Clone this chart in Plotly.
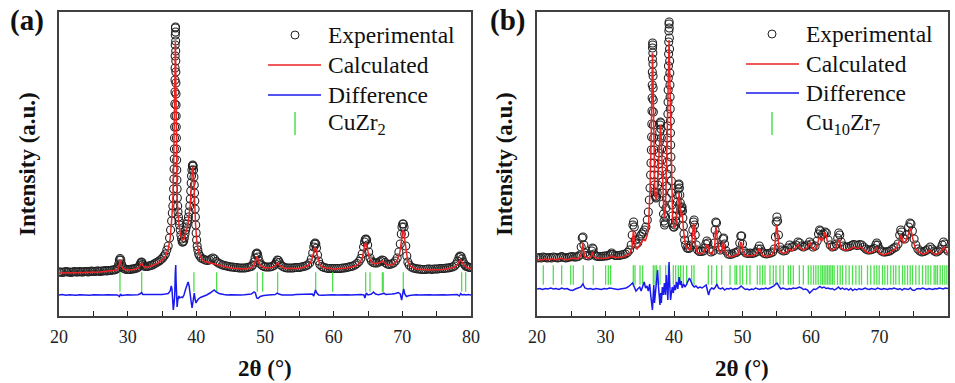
import plotly.graph_objects as go

# ---------------- Panel (a): CuZr2 ----------------
A_OBS_X = [
 20.0, 20.25, 20.5, 20.75, 21.0, 21.25, 21.5, 21.75, 22.0, 22.25,
 22.5, 22.75, 23.0, 23.25, 23.5, 23.75, 24.0, 24.25, 24.5, 24.75,
 25.0, 25.25, 25.5, 25.75, 26.0, 26.25, 26.5, 26.75, 27.0, 27.25,
 27.5, 27.75, 28.0, 28.25, 28.5, 28.6, 28.7, 28.8, 28.9, 29.0,
 29.1, 29.2, 29.35, 29.6, 29.85, 30.1, 30.35, 30.6, 30.85, 31.1,
 31.35, 31.6, 31.8, 31.9, 32.0, 32.1, 32.2, 32.35, 32.6, 32.85,
 33.1, 33.35, 33.6, 33.85, 34.1, 34.35, 34.6, 34.85, 35.1, 35.3,
 35.5, 35.7, 35.9, 36.1, 36.25, 36.4, 36.5, 36.58, 36.64, 36.69,
 36.73, 36.76, 36.785, 36.805, 36.825, 36.84, 36.855, 36.87, 36.885, 36.895,
 36.905, 36.915, 36.925, 36.935, 36.95, 36.965, 36.98, 36.99, 37.0, 37.01,
 37.02, 37.03, 37.04, 37.05, 37.065, 37.08, 37.095, 37.11, 37.13, 37.15,
 37.175, 37.2, 37.235, 37.28, 37.33, 37.4, 37.48, 37.56, 37.65, 37.75,
 37.85, 37.95, 38.05, 38.15, 38.25, 38.35, 38.45, 38.55, 38.65, 38.75,
 38.85, 38.95, 39.05, 39.12, 39.19, 39.25, 39.3, 39.36, 39.42, 39.48,
 39.54, 39.6, 39.65, 39.7, 39.74, 39.78, 39.82, 39.86, 39.91, 39.97,
 40.04, 40.12, 40.22, 40.35, 40.5, 40.7, 41.0, 41.3, 41.6, 41.9,
 42.15, 42.4, 42.65, 42.9, 43.2, 43.5, 43.8, 44.1, 44.4, 44.7,
 45.0, 45.3, 45.6, 45.9, 46.2, 46.5, 46.8, 47.1, 47.4, 47.7,
 48.0, 48.2, 48.4, 48.55, 48.7, 48.8, 48.9, 49.0, 49.15, 49.35,
 49.6, 49.85, 50.1, 50.4, 50.7, 51.0, 51.3, 51.5, 51.65, 51.8,
 51.95, 52.1, 52.3, 52.6, 52.9, 53.2, 53.5, 53.8, 54.1, 54.4,
 54.7, 55.0, 55.3, 55.6, 55.9, 56.2, 56.5, 56.75, 56.95, 57.1,
 57.2, 57.3, 57.4, 57.5, 57.65, 57.8, 58.0, 58.3, 58.6, 58.9,
 59.2, 59.5, 59.8, 60.1, 60.4, 60.7, 61.0, 61.3, 61.6, 61.9,
 62.2, 62.5, 62.8, 63.1, 63.4, 63.7, 63.95, 64.15, 64.35, 64.5,
 64.6, 64.7, 64.8, 64.95, 65.1, 65.3, 65.5, 65.75, 66.0, 66.3,
 66.6, 66.85, 67.05, 67.25, 67.5, 67.8, 68.1, 68.4, 68.7, 69.0,
 69.25, 69.5, 69.7, 69.85, 69.95, 70.05, 70.15, 70.25, 70.35, 70.5,
 70.65, 70.8, 71.0, 71.3, 71.6, 71.9, 72.2, 72.5, 72.8, 73.1,
 73.4, 73.7, 74.0, 74.3, 74.6, 74.9, 75.2, 75.5, 75.8, 76.1,
 76.4, 76.7, 77.0, 77.3, 77.6, 77.85, 78.05, 78.25, 78.4, 78.55,
 78.7, 78.85, 79.0, 79.2, 79.4, 79.6, 79.8, 80.0]
A_OBS_Y = [
 44, 44, 43.5, 44, 44.5, 44, 44, 43.5, 44, 44.5,
 44, 44, 44.5, 44, 44, 44.5, 44.5, 44, 44.5, 45,
 44.5, 44.5, 45, 45, 44.5, 45, 45, 45.5, 45, 45.5,
 45.5, 46, 46, 46.5, 47.5, 49, 52, 56, 57.5, 56,
 52, 49.5, 48, 47, 46.5, 46.5, 46.5, 47, 47, 47.5,
 48, 49, 51, 53, 54, 53.5, 51.5, 50, 49.5, 49.5,
 50, 50.5, 51, 52, 53, 54, 55, 56.5, 58, 60,
 62, 66, 70, 78, 86, 95, 103, 110, 118, 127,
 137, 147, 157, 167, 178, 189, 200, 212, 224, 236,
 248, 260, 271, 281, 288, 289, 284, 275, 265, 255,
 244, 233, 222, 211, 200, 189, 178, 167, 156, 146,
 136, 127, 118, 110, 104, 99, 95, 91, 86, 81,
 77, 74, 74, 75, 78, 82, 86, 89, 92, 95,
 99, 104, 110, 117, 125, 133, 140, 146, 150, 151,
 150, 146, 139, 131, 123, 115, 107, 99, 91, 83,
 76, 70, 66, 62, 60, 58, 57, 56, 55.5, 56,
 57, 58, 57, 54.5, 53, 52, 51, 50.5, 50, 49.5,
 49, 49, 48.5, 48.5, 48, 48, 48, 48, 48.5, 49,
 49.5, 51, 54, 58, 62, 63, 62, 59, 55, 52,
 50.5, 49.5, 49, 49, 49, 49.5, 50.5, 52, 54, 56,
 55.5, 53.5, 51, 49.5, 48.5, 48, 48, 48, 48, 48.5,
 48.5, 48.5, 49, 49.5, 50, 51, 53, 57, 63, 69,
 72, 73, 72, 68, 61, 55, 51.5, 49.5, 48.5, 48,
 47.5, 47.5, 47.5, 47.5, 47.5, 47.5, 47.5, 48, 48, 48.5,
 49, 49.5, 50, 51, 52.5, 54.5, 57.5, 62, 69, 74,
 76.5, 77, 76, 71, 64, 58, 55, 53.5, 53, 53,
 54, 55, 56, 55.5, 53.5, 52, 51.5, 52, 53, 55,
 58, 64, 72, 82, 89, 92, 92, 89, 82, 70,
 60, 54, 51, 49, 48, 47.5, 47, 47, 46.5, 46.5,
 46.5, 47, 47, 46.5, 47, 47, 47, 47.5, 47.5, 47.5,
 48, 48, 48.5, 49, 50, 52, 55, 58.5, 60, 59.5,
 57, 54, 52, 50, 49.5, 49, 48.5, 48.5]

A_CAL_X = [
 20, 22, 24, 26, 27, 28, 28.5, 28.7, 28.8, 28.9,
 29.0, 29.15, 29.4, 30, 31, 31.6, 31.85, 32.0, 32.15, 32.4,
 33, 34, 35, 35.5, 35.9, 36.2, 36.45, 36.6, 36.7, 36.78,
 36.84, 36.88, 36.92, 36.95, 36.98, 37.02, 37.07, 37.13, 37.2, 37.3,
 37.42, 37.6, 37.8, 38.0, 38.2, 38.45, 38.7, 38.9, 39.1, 39.25,
 39.38, 39.47, 39.53, 39.62, 39.75, 39.9, 40.05, 40.25, 40.5, 40.8,
 41.2, 41.8, 42.5, 43.5, 45, 47, 48.0, 48.4, 48.6, 48.75,
 48.85, 48.95, 49.1, 49.4, 50, 51, 51.5, 51.7, 51.85, 52.0,
 52.3, 53, 55, 56.2, 56.6, 56.9, 57.1, 57.25, 57.35, 57.5,
 57.7, 58.0, 58.5, 60, 62, 63.2, 63.8, 64.2, 64.45, 64.62,
 64.75, 64.95, 65.2, 65.5, 66, 66.8, 67.1, 67.3, 67.8, 68.5,
 69.2, 69.6, 69.85, 70.0, 70.1, 70.2, 70.35, 70.55, 70.8, 71.2,
 72, 74, 76, 77.5, 78.0, 78.3, 78.5, 78.7, 79.0, 79.5,
 80]
A_CAL_Y = [
 43, 43, 43.5, 44, 44.5, 45, 46, 49, 53, 56,
 53, 49, 47, 46, 46.5, 48, 51, 53, 51, 49,
 49, 51.5, 55.5, 60, 67, 78, 100, 120, 150, 185,
 220, 250, 270, 274, 265, 235, 190, 150, 122, 103,
 93, 85, 79, 76, 77, 82, 89, 97, 110, 128,
 143, 149, 148, 138, 112, 90, 76, 67, 61, 57,
 54.5, 53.5, 52.5, 50.5, 48, 47, 48, 51, 55, 59,
 59.5, 57, 53, 50, 48, 48.5, 50, 52, 53, 52,
 49.5, 47.5, 47.5, 50, 53, 58, 65, 68, 68, 64,
 57, 51, 48.5, 47, 48, 50, 53, 59, 68, 73,
 72, 66, 58, 54, 52, 53.5, 55, 54, 51, 51,
 55, 62, 75, 84, 86, 84, 76, 64, 54, 49.5,
 47, 46, 46.5, 48.5, 51, 55, 56, 54, 50.5, 48,
 47.5]

A_DIF_X = [
 20, 20.5, 21, 21.5, 22, 22.5, 23, 23.5, 24, 24.5,
 25, 25.5, 26, 26.5, 27, 27.5, 28, 28.5, 28.8, 28.95,
 29.1, 29.5, 30, 30.5, 31, 31.5, 31.9, 32.05, 32.2, 32.6,
 33, 33.5, 34, 34.5, 35, 35.5, 35.9, 36.2, 36.35, 36.45,
 36.55, 36.65, 36.75, 36.85, 36.95, 37.0, 37.05, 37.12, 37.2, 37.3,
 37.45, 37.6, 37.8, 38.0, 38.2, 38.4, 38.6, 38.8, 38.95, 39.1,
 39.25, 39.38, 39.48, 39.58, 39.7, 39.82, 39.95, 40.1, 40.3, 40.6,
 41, 41.5, 42.0, 42.4, 42.6, 42.9, 43.3, 44, 44.5, 45,
 45.5, 46, 46.5, 47, 47.5, 48, 48.4, 48.6, 48.8, 49.0,
 49.3, 49.8, 50.5, 51, 51.5, 51.8, 52.0, 52.5, 53, 53.5,
 54, 54.5, 55, 55.5, 56, 56.5, 56.9, 57.1, 57.35, 57.5,
 57.8, 58.3, 59, 59.5, 60, 60.5, 61, 61.5, 62, 62.5,
 63, 63.5, 64, 64.4, 64.55, 64.75, 65, 65.5, 65.8, 66.1,
 66.5, 67, 67.3, 67.6, 68, 68.5, 69, 69.4, 69.7, 69.9,
 70.05, 70.2, 70.35, 70.6, 71, 71.5, 72, 72.5, 73, 73.5,
 74, 74.5, 75, 75.5, 76, 76.5, 77, 77.5, 78, 78.3,
 78.5, 78.7, 79, 79.3, 79.6, 80]
A_DIF_Y = [
 21, 21.5, 20.8, 21.3, 21, 20.7, 21.2, 21, 21.4, 20.8,
 21.2, 21, 21.3, 20.9, 21.2, 21, 21.3, 21, 19.5, 22,
 20.5, 21, 21.2, 20.9, 21.2, 21.3, 22.5, 23.5, 21.5, 21.5,
 21, 21.3, 21.5, 21.2, 21.5, 22, 22.5, 25, 30, 27,
 12, 6, 12, 20, 45, 51, 35, 14, 9, 16,
 20, 18, 19, 18.5, 21, 26, 31, 34, 30, 24,
 14, 8, 14, 20, 23, 17, 13, 15, 17, 18.5,
 19.5, 21, 23, 25.5, 26, 24, 22.5, 21.5, 21, 21.3,
 21, 21.3, 21, 21.2, 21.5, 22, 24, 23, 18, 17.5,
 19.5, 20.5, 21, 21, 21.5, 23, 22, 21, 20.8, 21.2,
 21, 21.4, 21.6, 21.8, 21.5, 21.5, 22, 20, 26, 23.5,
 21, 20.8, 21.2, 20.8, 21.2, 21, 21.3, 21, 21.2, 21,
 21.3, 21, 21.5, 21, 18, 23, 21, 22, 24, 22,
 21.3, 22, 22.8, 21.5, 21.5, 22, 22.5, 23.5, 22, 16,
 22, 27, 22, 19.5, 20.5, 21, 21.2, 20.9, 21.2, 21,
 21.3, 21, 21.2, 20.9, 21.2, 21, 21.3, 21, 21.5, 20,
 22.5, 21, 21.5, 21, 21.4, 21]

A_BRAGG = [28.88, 32.04, 36.95, 39.65, 42.96, 48.88, 49.66, 51.84, 57.38,
           59.85, 64.66, 65.29, 67.09, 67.22, 70.14, 78.64, 79.22]

# ---------------- Panel (b): Cu10Zr7 ----------------
B_OBS_X = [
 20.0, 20.3, 20.6, 20.9, 21.2, 21.5, 21.8, 22.1, 22.4, 22.7,
 23.0, 23.3, 23.6, 23.9, 24.2, 24.5, 24.8, 25.1, 25.4, 25.7,
 26.0, 26.25, 26.45, 26.6, 26.72, 26.85, 27.0, 27.2, 27.5, 27.8,
 28.0, 28.1, 28.2, 28.35, 28.6, 28.9, 29.2, 29.5, 29.8, 30.1,
 30.4, 30.7, 30.9, 31.1, 31.4, 31.7, 32.0, 32.3, 32.6, 32.9,
 33.2, 33.5, 33.75, 33.9, 34.0, 34.1, 34.2, 34.35, 34.5, 34.7,
 34.9, 35.1, 35.3, 35.5, 35.7, 35.9, 36.1, 36.25, 36.4, 36.5,
 36.58, 36.64, 36.69, 36.73, 36.76, 36.785, 36.805, 36.82, 36.835, 36.85,
 36.865, 36.88, 36.9, 36.915, 36.93, 36.945, 36.96, 36.975, 36.99, 37.01,
 37.03, 37.05, 37.08, 37.11, 37.15, 37.2, 37.28, 37.36, 37.45, 37.55,
 37.63, 37.7, 37.76, 37.81, 37.86, 37.91, 37.96, 38.02, 38.07, 38.11,
 38.15, 38.19, 38.23, 38.27, 38.31, 38.36, 38.41, 38.47, 38.54, 38.62,
 38.7, 38.77, 38.83, 38.88, 38.93, 38.97, 39.0, 39.03, 39.06, 39.09,
 39.11, 39.13, 39.15, 39.17, 39.19, 39.21, 39.23, 39.25, 39.27, 39.29,
 39.31, 39.33, 39.35, 39.37, 39.39, 39.41, 39.43, 39.45, 39.47, 39.49,
 39.52, 39.55, 39.58, 39.61, 39.65, 39.7, 39.76, 39.83, 39.92, 40.02,
 40.12, 40.22, 40.32, 40.4, 40.47, 40.54, 40.6, 40.67, 40.73, 40.79,
 40.85, 40.92, 40.98, 41.05, 41.12, 41.18, 41.24, 41.3, 41.37, 41.45,
 41.55, 41.7, 41.9, 42.1, 42.3, 42.5, 42.65, 42.75, 42.85, 42.93,
 43.0, 43.1, 43.25, 43.45, 43.7, 44.0, 44.3, 44.5, 44.65, 44.8,
 44.95, 45.15, 45.4, 45.7, 45.9, 46.0, 46.1, 46.2, 46.32, 46.5,
 46.75, 47.0, 47.15, 47.25, 47.38, 47.6, 47.9, 48.2, 48.5, 48.8,
 49.1, 49.4, 49.6, 49.75, 49.88, 50.0, 50.2, 50.5, 50.8, 51.1,
 51.4, 51.7, 52.0, 52.25, 52.45, 52.65, 52.9, 53.2, 53.5, 53.8,
 54.1, 54.4, 54.65, 54.8, 54.92, 55.02, 55.12, 55.25, 55.45, 55.7,
 56.0, 56.3, 56.6, 56.9, 57.2, 57.5, 57.8, 58.1, 58.35, 58.6,
 58.9, 59.2, 59.5, 59.8, 60.05, 60.3, 60.6, 60.9, 61.1, 61.25,
 61.4, 61.6, 61.85, 62.05, 62.25, 62.5, 62.8, 63.1, 63.4, 63.7,
 63.9, 64.05, 64.2, 64.4, 64.7, 65.0, 65.3, 65.6, 65.9, 66.2,
 66.5, 66.8, 67.1, 67.4, 67.7, 68.0, 68.3, 68.6, 68.9, 69.2,
 69.45, 69.6, 69.75, 70.0, 70.3, 70.6, 70.9, 71.2, 71.5, 71.8,
 72.1, 72.4, 72.7, 72.95, 73.1, 73.25, 73.45, 73.7, 73.95, 74.25,
 74.45, 74.6, 74.8, 75.05, 75.3, 75.6, 75.9, 76.2, 76.5, 76.8,
 77.1, 77.4, 77.7, 78.0, 78.3, 78.6, 78.9, 79.15, 79.35, 79.55,
 79.8, 80.0]
B_OBS_Y = [
 57, 57.5, 57, 58, 57.5, 57, 57.5, 57, 58, 57.5,
 57, 57.5, 58.5, 57.5, 57, 57.5, 58, 58.5, 58, 58,
 58.5, 60, 68, 77, 78, 70, 62, 59.5, 59, 60,
 64, 67, 66, 61, 59, 58.5, 58.5, 58.5, 59, 59,
 59.5, 60.5, 62, 60.5, 59.5, 59.5, 59.5, 60, 60.5, 61,
 62.5, 65, 70, 80, 90, 93, 88, 75, 71, 72,
 76, 79, 81, 83, 85, 88, 95, 103, 115, 127,
 140, 152, 165, 178, 191, 204, 217, 230, 243, 256,
 267, 272, 270, 262, 251, 239, 227, 215, 203, 190,
 177, 165, 152, 140, 130, 123, 119, 117, 118, 122,
 130, 140, 151, 162, 173, 183, 190, 193, 192, 186,
 177, 166, 155, 144, 133, 122, 111, 101, 94, 90,
 92, 98, 107, 117, 129, 141, 153, 165, 177, 189,
 201, 213, 225, 237, 249, 261, 273, 284, 291, 293,
 287, 277, 266, 254, 242, 230, 218, 206, 194, 182,
 170, 158, 146, 134, 122, 110, 99, 92, 88, 88,
 90, 94, 99, 106, 113, 120, 126, 130, 131, 127,
 120, 112, 106, 104, 107, 108, 104, 97, 89, 81,
 75, 70, 67, 66.5, 67, 70, 76, 85, 93, 95,
 90, 80, 70, 65, 63.5, 63.5, 64, 67, 71, 74,
 72, 66, 63, 64, 72, 85, 93, 92, 80, 68,
 65, 68, 76, 77, 71, 64, 61, 60.5, 61, 62,
 62.5, 64, 72, 79, 79, 71, 64, 62, 61.5, 62,
 61.5, 62, 63, 66, 69, 66, 63, 61.5, 61, 61.5,
 62, 63, 66, 78, 93, 98, 94, 80, 68, 65,
 64, 64.5, 67, 70, 68, 68.5, 70, 73, 72, 69,
 68, 69, 70, 73, 71, 68, 69, 74, 81, 85,
 84, 80, 81, 83, 82, 75, 70, 68, 68.5, 71,
 77, 82, 80, 73, 69, 68, 68, 68.5, 69.5, 70.5,
 70, 69.5, 70.5, 70, 68, 66, 65, 65, 65.5, 66.5,
 70, 72, 70, 66, 64, 63, 63, 63.5, 64, 65.5,
 67, 68, 71, 80, 85, 83, 77, 76, 80, 88,
 92, 91, 84, 76, 70, 66, 64, 63, 63.5, 64.5,
 66, 68, 66, 64, 63, 64, 66, 70, 73, 71,
 66, 64]

B_CAL_X = [
 20, 20.5, 21.0, 21.2, 21.4, 22, 22.3, 22.5, 23.0, 23.6,
 23.9, 24.5, 25.0, 25.3, 25.6, 26.0, 26.4, 26.6, 26.7, 26.8,
 27.0, 27.5, 27.9, 28.1, 28.25, 28.6, 29.5, 30.3, 30.7, 30.85,
 31.0, 31.5, 32.5, 33.2, 33.6, 33.85, 34.0, 34.08, 34.18, 34.35,
 34.6, 35.0, 35.4, 35.6, 35.8, 36.1, 36.3, 36.5, 36.65, 36.75,
 36.82, 36.87, 36.92, 37.0, 37.1, 37.2, 37.3, 37.42, 37.55, 37.7,
 37.85, 37.95, 38.03, 38.12, 38.25, 38.4, 38.52, 38.62, 38.75, 38.9,
 39.05, 39.17, 39.25, 39.28, 39.33, 39.43, 39.55, 39.68, 39.8, 39.95,
 40.1, 40.3, 40.5, 40.65, 40.75, 40.85, 40.95, 41.05, 41.15, 41.25,
 41.4, 41.6, 41.9, 42.3, 42.6, 42.75, 42.85, 42.95, 43.1, 43.35,
 43.8, 44.3, 44.6, 44.8, 44.95, 45.2, 45.6, 45.95, 46.05, 46.13,
 46.22, 46.4, 46.7, 47.0, 47.15, 47.22, 47.32, 47.6, 48.2, 48.8,
 49.4, 49.6, 49.75, 49.87, 50.05, 50.4, 51.1, 51.7, 52.2, 52.45,
 52.65, 53.0, 53.6, 54.3, 54.65, 54.85, 54.97, 55.07, 55.2, 55.45,
 55.8, 56.3, 56.6, 56.9, 57.2, 57.6, 57.9, 58.15, 58.4, 58.8,
 59.2, 59.4, 59.7, 59.9, 60.1, 60.5, 60.9, 61.1, 61.22, 61.4,
 61.6, 61.85, 62.05, 62.25, 62.5, 62.8, 63.2, 63.6, 63.85, 64.0,
 64.15, 64.4, 64.8, 65.2, 65.7, 66.2, 66.5, 66.9, 67.2, 67.5,
 67.9, 68.4, 69.0, 69.35, 69.55, 69.7, 70.0, 70.5, 71.0, 71.5,
 72.0, 72.5, 72.9, 73.1, 73.3, 73.5, 73.8, 74.1, 74.35, 74.55,
 74.75, 75.0, 75.3, 75.7, 76.3, 76.9, 77.3, 77.6, 78.0, 78.5,
 78.9, 79.2, 79.4, 79.6, 79.85, 80]
B_CAL_Y = [
 55, 55.5, 55.5, 56.5, 55.5, 55.5, 56.5, 55.5, 55.5, 57,
 55.5, 55.5, 56, 57, 56, 56.5, 59, 70, 72, 64,
 58, 57, 58.5, 63, 59, 57, 56.5, 57, 58, 60,
 58, 57.5, 58, 60, 62, 67, 80, 85, 78, 68,
 66, 70, 73, 76, 74, 80, 92, 125, 170, 225,
 255, 262, 245, 190, 145, 124, 117, 116, 125, 148,
 175, 187, 190, 180, 150, 118, 102, 97, 106, 145,
 200, 250, 273, 275, 260, 215, 160, 115, 96, 89,
 87, 92, 105, 118, 122, 112, 100, 98, 102, 98,
 84, 73, 67, 65, 72, 85, 92, 88, 72, 63,
 61, 62, 66, 70, 69, 62, 61, 70, 82, 88,
 84, 70, 62, 64, 71, 73, 68, 61, 58, 59,
 61, 67, 73, 72, 64, 59, 59, 59.5, 63, 67,
 63, 59.5, 58.5, 60, 64, 80, 90, 87, 75, 64,
 62, 62, 64, 66, 64, 66, 69, 70, 67, 65,
 66, 67, 70, 73, 68, 65, 70, 76, 78, 76,
 74, 78, 83, 78, 70, 66, 65, 67, 71, 75,
 74, 67, 65, 65, 66, 68, 67, 66.5, 68, 67,
 64, 62, 63, 65, 68, 66, 62, 60, 61, 62,
 65, 67, 74, 80, 77, 72, 73, 79, 85, 87,
 80, 72, 66, 63, 61, 62, 65, 63, 61, 61,
 63, 66, 68, 66, 62, 61]

B_DIF_X = [
 20, 20.4, 20.8, 21.2, 21.6, 22.0, 22.4, 22.8, 23.2, 23.6,
 24.0, 24.4, 24.8, 25.2, 25.6, 26.0, 26.4, 26.7, 27.0, 27.4,
 27.8, 28.2, 28.6, 29.0, 29.4, 29.8, 30.2, 30.6, 31.0, 31.4,
 31.8, 32.2, 32.6, 33.0, 33.4, 33.7, 33.95, 34.2, 34.45, 34.7,
 35.0, 35.2, 35.45, 35.65, 35.85, 36.05, 36.25, 36.45, 36.6, 36.75,
 36.85, 36.95, 37.05, 37.15, 37.3, 37.45, 37.6, 37.72, 37.85, 37.95,
 38.05, 38.15, 38.3, 38.45, 38.6, 38.75, 38.9, 39.0, 39.1, 39.2,
 39.28, 39.38, 39.5, 39.62, 39.75, 39.9, 40.05, 40.2, 40.4, 40.55,
 40.75, 40.9, 41.05, 41.2, 41.4, 41.6, 41.8, 42.05, 42.25, 42.45,
 42.7, 42.95, 43.2, 43.5, 43.8, 44.1, 44.4, 44.7, 44.9, 45.05,
 45.25, 45.5, 45.8, 46.05, 46.25, 46.5, 46.8, 47.1, 47.4, 47.7,
 48.0, 48.3, 48.6, 48.9, 49.2, 49.5, 49.8, 50.1, 50.4, 50.7,
 51.0, 51.3, 51.6, 51.9, 52.2, 52.5, 52.8, 53.1, 53.4, 53.7,
 54.0, 54.3, 54.6, 54.85, 55.05, 55.3, 55.6, 55.9, 56.2, 56.5,
 56.8, 57.1, 57.4, 57.7, 58.0, 58.3, 58.6, 58.9, 59.2, 59.5,
 59.8, 60.1, 60.4, 60.7, 61.0, 61.3, 61.6, 61.9, 62.2, 62.5,
 62.8, 63.1, 63.4, 63.7, 64.0, 64.3, 64.6, 64.9, 65.2, 65.5,
 65.8, 66.1, 66.4, 66.7, 67.0, 67.3, 67.6, 67.9, 68.2, 68.5,
 68.8, 69.1, 69.4, 69.7, 70.0, 70.3, 70.6, 70.9, 71.2, 71.5,
 71.8, 72.1, 72.4, 72.7, 73.0, 73.3, 73.6, 73.9, 74.2, 74.5,
 74.8, 75.1, 75.4, 75.7, 76.0, 76.3, 76.6, 76.9, 77.2, 77.5,
 77.8, 78.1, 78.4, 78.7, 79.0, 79.3, 79.6, 80.0]
B_DIF_Y = [
 26, 26.5, 25.5, 26.5, 26, 27, 26, 26.5, 25.5, 27,
 26, 26.5, 25, 24.5, 26, 27, 28, 31, 27, 26,
 26.5, 25.5, 26.5, 26, 25.5, 26.5, 26, 27, 26.5, 26,
 25.5, 26, 26.5, 27, 28.5, 31, 32, 28, 24, 26,
 28, 24, 30, 33, 27, 29, 24, 31, 20, 10,
 5, 18, 30, 12, 25, 35, 45, 30, 15, 10,
 22, 12, 28, 20, 32, 20, 40, 25, 15, 35,
 53, 30, 15, 22, 28, 22, 30, 25, 33, 26,
 38, 30, 34, 27, 31, 28, 30, 34, 37, 34,
 30, 28, 29, 27, 28, 27, 29, 30, 24, 20,
 25, 27, 26, 28, 31, 27, 26, 27, 25, 26.5,
 26, 27, 25.5, 26.5, 26, 27, 29, 27, 25.5, 26,
 25, 26, 25.5, 27, 26, 25.5, 26.5, 26, 27, 26,
 27, 28, 29, 31, 32, 29, 26, 27, 26, 25.5,
 26.5, 26, 27, 26.5, 27, 28, 27, 25.5, 26, 25,
 22, 24, 26, 25.5, 27, 28.5, 27, 28, 26.5, 27,
 26, 26.5, 25, 26, 28, 26, 27, 25.5, 26.5, 25,
 26.5, 24.5, 26, 25, 26.5, 25.5, 26, 27, 26, 25.5,
 26.5, 26, 25.5, 27, 26, 25.5, 26.5, 26, 25.5, 26.5,
 26, 27, 26, 25.5, 26.5, 25, 26.5, 26, 25.5, 27,
 25, 24.5, 26, 26.5, 26, 27, 26, 25.5, 26.5, 26,
 25.5, 26.5, 26, 27, 26.5, 26, 27, 26.5]

B_BRAGG = [
 20.92, 22.38, 23.60, 24.92, 25.30, 26.76, 28.22, 30.02, 30.41, 30.75,
 34.06, 34.31, 35.04, 35.43, 36.98, 37.23, 37.47, 37.96, 38.78, 39.17,
 39.90, 40.24, 40.63, 40.97, 41.36, 41.85, 42.58, 42.92, 45.01, 45.50,
 46.23, 46.96, 48.18, 48.91, 49.15, 49.64, 50.03, 50.61, 51.09, 52.16,
 52.55, 52.94, 53.28, 54.01, 54.50, 54.89, 55.47, 55.96, 56.69, 57.03,
 57.42, 58.30, 58.88, 59.61, 60.00, 60.37, 60.71, 61.05, 61.44, 61.68,
 61.92, 62.17, 62.41, 62.66, 62.90, 63.14, 63.38, 63.87, 64.26, 64.60,
 65.09, 65.57, 66.06, 66.55, 67.03, 67.37, 68.25, 68.73, 69.22, 69.61,
 69.95, 70.44, 70.78, 71.17, 71.65, 72.04, 72.38, 72.87, 73.36, 73.70,
 74.09, 74.48, 74.82, 75.30, 75.79, 76.28, 76.76, 77.10, 77.49, 77.98,
 78.22, 78.47, 78.86, 79.20, 79.54, 79.83]

X_TICKS = [20, 30, 40, 50, 60, 70, 80]
LEGEND_A = ["Experimental", "Calculated", "Difference", "CuZr<sub>2</sub>"]
LEGEND_B = ["Experimental", "Calculated", "Difference", "Cu<sub>10</sub>Zr<sub>7</sub>"]

for xs, ys in [(A_OBS_X, A_OBS_Y), (A_CAL_X, A_CAL_Y), (A_DIF_X, A_DIF_Y),
               (B_OBS_X, B_OBS_Y), (B_CAL_X, B_CAL_Y), (B_DIF_X, B_DIF_Y)]:
    if len(xs) != len(ys):
        raise ValueError(f"length mismatch {len(xs)} vs {len(ys)}")

W, H = 955, 383
FONT = "Liberation Serif"
BLACK_C = "#222222"
RED = "#ee2222"
BLUE = "#1a1aee"
GREEN = "#4de04d"

fig = go.Figure()

def add_panel(n, ox, oy, cx, cy, dx, dy, bragg, bragg_y):
    xa = "x" if n == 1 else "x2"
    ya = "y" if n == 1 else "y2"
    fig.add_trace(go.Scatter(x=ox, y=oy, mode="markers", xaxis=xa, yaxis=ya,
                             marker=dict(symbol="circle-open", size=8, color=BLACK_C,
                                         line=dict(color=BLACK_C, width=1.1)),
                             showlegend=False))
    fig.add_trace(go.Scatter(x=cx, y=cy, mode="lines", xaxis=xa, yaxis=ya,
                             line=dict(color=RED, width=1.5), showlegend=False))
    fig.add_trace(go.Scatter(x=bragg, y=[bragg_y] * len(bragg), mode="markers",
                             xaxis=xa, yaxis=ya,
                             marker=dict(symbol="line-ns", size=14, color=GREEN,
                                         line=dict(color=GREEN, width=1.3)),
                             showlegend=False))
    fig.add_trace(go.Scatter(x=dx, y=dy, mode="lines", xaxis=xa, yaxis=ya,
                             line=dict(color=BLUE, width=1.5), showlegend=False))

add_panel(1, A_OBS_X, A_OBS_Y, A_CAL_X, A_CAL_Y, A_DIF_X, A_DIF_Y, A_BRAGG, 34)
add_panel(2, B_OBS_X, B_OBS_Y, B_CAL_X, B_CAL_Y, B_DIF_X, B_DIF_Y, B_BRAGG, 40)

def px_x(p):
    return p / W

def px_y(p):
    return 1 - p / H

ydom = [px_y(316), px_y(11.5)]
xcommon = dict(range=[20, 80], tickvals=X_TICKS, ticks="inside", ticklen=5,
               tickwidth=1.2, tickcolor=BLACK_C, showline=True, mirror=True,
               linecolor="#404040", linewidth=1.5, showgrid=False, zeroline=False,
               tickfont=dict(family=FONT, size=18, color="#222"),
               minor=dict(dtick=5, tick0=20, ticks="inside", ticklen=5,
                          tickcolor=BLACK_C, tickwidth=1.2),
               automargin=False, ticklabelstandoff=4)
ycommon = dict(showline=True, mirror=True, linecolor="#404040", linewidth=1.5,
               showgrid=False, zeroline=False, showticklabels=False, ticks="",
               automargin=False, domain=ydom)

fig.update_layout(
    width=W, height=H, margin=dict(l=0, r=0, t=0, b=0),
    paper_bgcolor="white", plot_bgcolor="white", showlegend=False,
    font=dict(family=FONT),
    xaxis=dict(domain=[px_x(59), px_x(471)], anchor="y", **xcommon),
    yaxis=dict(range=[0, 304.5], anchor="x", **ycommon),
    xaxis2=dict(domain=[px_x(537), px_x(948)], anchor="y2", **xcommon),
    yaxis2=dict(range=[-1, 303.5], anchor="x2", **ycommon),
)

ann = []
shapes = []

def text(x, y, s, size, bold=False, angle=0, xanchor="center"):
    ann.append(dict(x=px_x(x), y=px_y(y), xref="paper", yref="paper",
                    text=f"<b>{s}</b>" if bold else s, showarrow=False,
                    xanchor=xanchor, yanchor="middle", textangle=angle,
                    font=dict(family=FONT, size=size, color="#111")))

# panel labels, axis titles
text(27, 20, "(a)", 29, bold=True)
text(507, 20, "(b)", 29, bold=True)
text(265, 368, "2θ (°)", 23, bold=True)
text(742, 368, "2θ (°)", 23, bold=True)
text(28, 164, "Intensity (a.u.)", 23, bold=True, angle=-90)
text(505, 164, "Intensity (a.u.)", 23, bold=True, angle=-90)

def legend(labels, sym_x, line_x0, line_x1, text_x, ys):
    r = 4
    shapes.append(dict(type="circle", xref="paper", yref="paper",
                       x0=px_x(sym_x - r), x1=px_x(sym_x + r),
                       y0=px_y(ys[0] + r), y1=px_y(ys[0] - r),
                       line=dict(color=BLACK_C, width=1)))
    shapes.append(dict(type="line", xref="paper", yref="paper",
                       x0=px_x(line_x0), x1=px_x(line_x1), y0=px_y(ys[1]), y1=px_y(ys[1]),
                       line=dict(color=RED, width=1.5)))
    shapes.append(dict(type="line", xref="paper", yref="paper",
                       x0=px_x(line_x0), x1=px_x(line_x1), y0=px_y(ys[2]), y1=px_y(ys[2]),
                       line=dict(color=BLUE, width=1.5)))
    shapes.append(dict(type="line", xref="paper", yref="paper",
                       x0=px_x(sym_x), x1=px_x(sym_x), y0=px_y(ys[3] - 12), y1=px_y(ys[3] + 11),
                       line=dict(color=GREEN, width=1.5)))
    for lab, yy in zip(labels, ys):
        text(text_x, yy, lab, 23.5, xanchor="left")

legend(LEGEND_A, 295, 268, 321, 326, [35, 65, 95, 124])
legend(LEGEND_B, 772, 746, 799, 804, [34, 64, 93, 124])

fig.update_layout(annotations=ann, shapes=shapes)
fig.write_html("out.html")
